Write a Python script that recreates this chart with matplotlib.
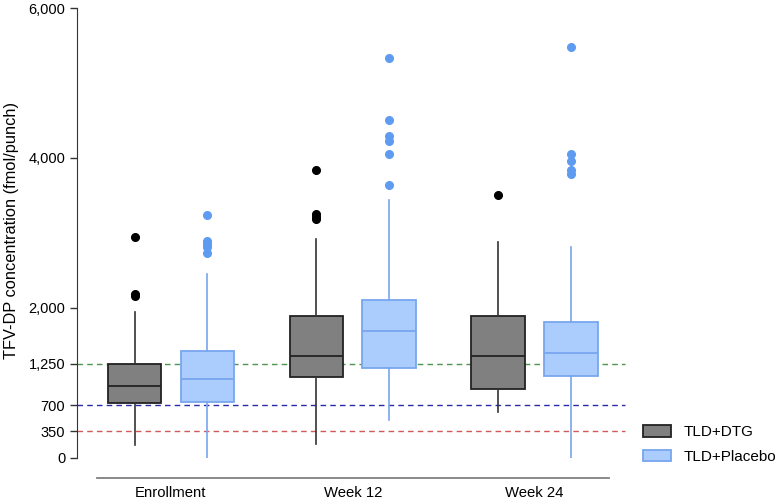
import numpy as np
import matplotlib.pyplot as plt
from matplotlib.patches import Patch

plt.rcParams["font.family"] = ["Liberation Sans", "DejaVu Sans"]

# values (fmol/punch)
visits = ["Enrollment", "Week 12", "Week 24"]
arms = ["TLD+DTG", "TLD+Placebo"]

dtg_q1 = [732, 1071, 919]
dtg_med = [950, 1351, 1351]
dtg_q3 = [1248, 1885, 1885]
dtg_lo = [167, 176, 612]
dtg_hi = [1938, 2917, 2873]
dtg_fliers = [[2948, 2180, 2150], [3843, 3250, 3215, 3180], [3509]]

pla_q1 = [741, 1191, 1088]
pla_med = [1052, 1689, 1395]
pla_q3 = [1426, 2099, 1813]
pla_lo = [0, 501, 0]
pla_hi = [2446, 3442, 2806]
pla_fliers = [[3242, 2890, 2850, 2805, 2735],
              [5330, 4502, 4292, 4226, 4056, 3634],
              [5481, 4056, 3963, 3838, 3781]]

ref_levels = [1250, 700, 350]
ref_colors = ["#4f944f", "#2a2aa8", "#d05a5a"]

yticks = [0, 350, 700, 1250, 2000, 4000, 6000]


def make_stats(q1, med, q3, lo, hi, fliers):
    return [
        {"q1": a, "med": m, "q3": b, "whislo": l, "whishi": h, "fliers": f}
        for a, m, b, l, h, f in zip(q1, med, q3, lo, hi, fliers)
    ]


fig = plt.figure(figsize=(7.77, 5.03), dpi=100)
ax = fig.add_axes([97 / 777, 45.5 / 503, 512 / 777, 449.5 / 503])

x = np.arange(len(visits))
off = 0.2
w = 0.294

ax.bxp(
    make_stats(dtg_q1, dtg_med, dtg_q3, dtg_lo, dtg_hi, dtg_fliers),
    positions=x - off, widths=w, showcaps=False, patch_artist=True,
    boxprops=dict(facecolor="#808080", edgecolor="#222222", linewidth=1.3),
    medianprops=dict(color="#222222", linewidth=1.3),
    whiskerprops=dict(color="#333333", linewidth=1.2),
    flierprops=dict(marker="o", markerfacecolor="black", markeredgecolor="black",
                    markersize=5.5),
)
ax.bxp(
    make_stats(pla_q1, pla_med, pla_q3, pla_lo, pla_hi, pla_fliers),
    positions=x + off, widths=w, showcaps=False, patch_artist=True,
    boxprops=dict(facecolor="#abcdfd", edgecolor="#78a6ee", linewidth=1.3),
    medianprops=dict(color="#78a6ee", linewidth=1.3),
    whiskerprops=dict(color="#78a6ee", linewidth=1.2),
    flierprops=dict(marker="o", markerfacecolor="#5f9bf0", markeredgecolor="#5f9bf0",
                    markersize=5.5),
)

# reference lines run past the plot area on both sides
for lvl, col in zip(ref_levels, ref_colors):
    ax.plot([-0.517, 2.498], [lvl, lvl], color=col, linestyle=(0, (4, 3)),
            linewidth=1.0, clip_on=False, zorder=0.5)

ax.set_xlim(-0.407, 2.41)
ax.set_ylim(0, 6000)
ax.set_yticks(yticks)
ax.set_yticklabels([f"{t:,}" for t in yticks])
ax.set_xticks(x)
ax.set_xticklabels(visits)
ax.set_ylabel("TFV-DP concentration (fmol/punch)", fontsize=11.8)
ax.yaxis.set_label_coords(-0.152, 0.505)

ax.tick_params(axis="y", labelsize=10.5, length=5, color="#333333", width=1)
ax.tick_params(axis="x", labelsize=10.7, length=0, pad=6)

ax.spines["top"].set_visible(False)
ax.spines["right"].set_visible(False)
ax.spines["left"].set_position(("outward", 14.4))
ax.spines["left"].set_color("#333333")
ax.spines["bottom"].set_position(("outward", 14.4))
ax.spines["bottom"].set_color("#808080")
ax.spines["bottom"].set_linewidth(1.3)

handles = [
    Patch(facecolor="#808080", edgecolor="#222222", linewidth=1.3, label=arms[0]),
    Patch(facecolor="#abcdfd", edgecolor="#78a6ee", linewidth=1.3, label=arms[1]),
]
fig.legend(handles=handles, loc="center left", bbox_to_anchor=(0.810, 0.116),
           frameon=False, fontsize=11, handlelength=1.85, handleheight=0.75,
           handletextpad=0.8, labelspacing=0.7)

fig.savefig("out.png", dpi=100)
